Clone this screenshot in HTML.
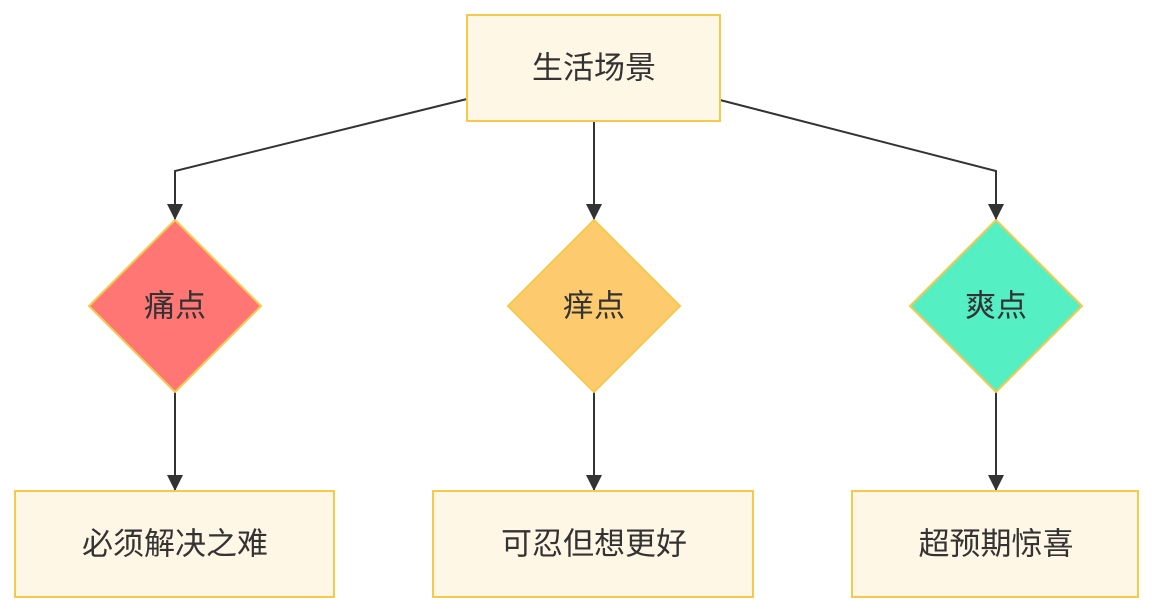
<!DOCTYPE html>
<html><head><meta charset="utf-8"><style>
html,body{margin:0;padding:0;background:#fff;}
svg{display:block;}
text{font-family:"Liberation Sans","Noto Sans CJK SC",sans-serif;font-size:31px;fill:#333;text-anchor:middle;dominant-baseline:central;}
</style></head><body>
<svg width="1154" height="614" viewBox="0 0 1154 614" xmlns="http://www.w3.org/2000/svg">
<defs>
<marker id="b" viewBox="0 0 10 10" markerWidth="16" markerHeight="16" refX="10" refY="5" orient="auto" markerUnits="userSpaceOnUse"><path d="M0,0 L10,5 L0,10z" fill="#333"/></marker></defs>
<g stroke="#333" stroke-width="2" fill="none">
<path d="M467,99 L175,171 L175,220" marker-end="url(#b)"/>
<path d="M594,121 L594,220" marker-end="url(#b)"/>
<path d="M720,100 L996,171 L996,220" marker-end="url(#b)"/>
<path d="M175,392 L175,491" marker-end="url(#b)"/>
<path d="M594,392 L594,491" marker-end="url(#b)"/>
<path d="M996,392 L996,491" marker-end="url(#b)"/>
</g>
<g stroke="#f6c94a" stroke-width="2">
<rect x="467" y="15" width="253" height="106" fill="#fff7e6"/>
<polygon points="175,220 261,306 175,392 89,306" fill="#ff7675"/>
<polygon points="594,220 680,306 594,392 508,306" fill="#fdcb6e"/>
<polygon points="996,220 1082,306 996,392 910,306" fill="#55efc4"/>
<rect x="15" y="491" width="319" height="106" fill="#fff7e6"/>
<rect x="433" y="491" width="320" height="106" fill="#fff7e6"/>
<rect x="852" y="491" width="286" height="106" fill="#fff7e6"/>
</g>
<text x="594" y="68">生活场景</text>
<text x="175" y="306">痛点</text>
<text x="594" y="306">痒点</text>
<text x="996" y="306">爽点</text>
<text x="175" y="544">必须解决之难</text>
<text x="594" y="544">可忍但想更好</text>
<text x="996" y="544">超预期惊喜</text>
</svg>
</body></html>
